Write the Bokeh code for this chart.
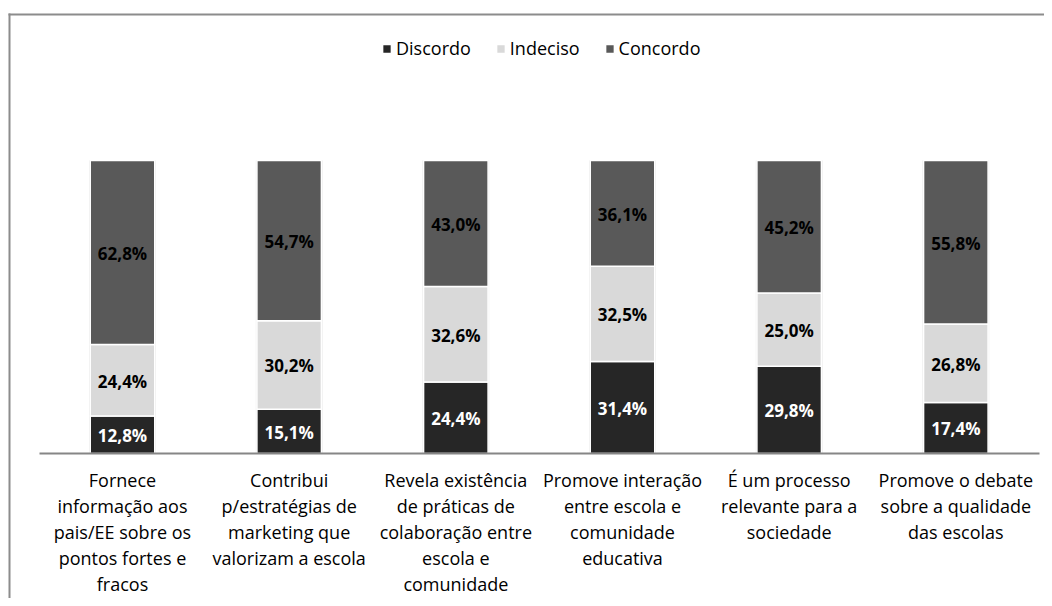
from bokeh.plotting import figure
from bokeh.models import (ColumnDataSource, Range1d, Legend, BoxAnnotation,
                          LinearAxis, FixedTicker)
from bokeh.core.properties import value
from bokeh.embed import file_html
from bokeh.resources import INLINE

categories = [
    "Fornece\ninformação aos\npais/EE sobre os\npontos fortes e\nfracos",
    "Contribui\np/estratégias de\nmarketing que\nvalorizam a escola",
    "Revela existência\nde práticas de\ncolaboração entre\nescola e\ncomunidade",
    "Promove interação\nentre escola e\ncomunidade\neducativa",
    "É um processo\nrelevante para a\nsociedade",
    "Promove o debate\nsobre a qualidade\ndas escolas",
]
series_names = ["Discordo", "Indeciso", "Concordo"]
discordo = [12.8, 15.1, 24.4, 31.4, 29.8, 17.4]
indeciso = [24.4, 30.2, 32.6, 32.5, 25.0, 26.8]
concordo = [62.8, 54.7, 43.0, 36.1, 45.2, 55.8]
colors = ["#262626", "#d9d9d9", "#595959"]
label_colors = ["#ffffff", "#000000", "#000000"]

FONT = "Open Sans"

xs = list(range(len(categories)))
data = {"x": xs, "Discordo": discordo, "Indeciso": indeciso, "Concordo": concordo}
source = ColumnDataSource(data)

W, H = 1044, 598
p = figure(
    x_range=Range1d(-0.732, 5.532),
    y_range=Range1d(-49.5, 154.6),
    width=W, height=H,
    output_backend="svg", toolbar_location=None,
    x_axis_location=None, y_axis_location=None,
    min_border_left=0, min_border_right=0, min_border_top=0, min_border_bottom=0,
)
p.outline_line_color = None
p.xgrid.visible = False
p.ygrid.visible = False

# chart-area border (left and top edges), in canvas units
p.add_layout(BoxAnnotation(left=8, right=10, top=13, bottom=H,
                           left_units="canvas", right_units="canvas",
                           top_units="canvas", bottom_units="canvas",
                           fill_color="#8c8c8c", fill_alpha=1, line_color=None,
                           level="overlay"))
p.add_layout(BoxAnnotation(left=8, right=W, top=13, bottom=15,
                           left_units="canvas", right_units="canvas",
                           top_units="canvas", bottom_units="canvas",
                           fill_color="#8c8c8c", fill_alpha=1, line_color=None,
                           level="overlay"))

# faint shadow behind bars
totals = [a + b + c for a, b, c in zip(discordo, indeciso, concordo)]
shadow = ColumnDataSource({"x": xs, "top": totals})
p.vbar(x="x", top="top", bottom=0, width=0.40, source=shadow,
       fill_color="#e4e4e4", line_color=None)

renderers = p.vbar_stack(series_names, x="x", width=0.387, color=colors,
                         line_color="white", line_width=1.5, source=source)

# data labels
cum = [0.0] * len(categories)
for name, vals, lc in zip(series_names, [discordo, indeciso, concordo], label_colors):
    ys = [c + v / 2 for c, v in zip(cum, vals)]
    cum = [c + v for c, v in zip(cum, vals)]
    txt = [f"{v:.1f}".replace(".", ",") + "%" for v in vals]
    ls = ColumnDataSource({"x": xs, "y": ys, "t": txt})
    p.text(x="x", y="y", text="t", source=ls, text_align="center",
           text_baseline="middle", text_font=value(FONT), text_font_style="bold",
           text_font_size="17px", text_color=lc, y_offset=1)

ax = LinearAxis(ticker=FixedTicker(ticks=xs), fixed_location=0,
                bounds=(-0.5, len(categories) - 0.5))
ax.major_label_overrides = {i: c for i, c in zip(xs, categories)}
ax.axis_line_color = "#868686"
ax.axis_line_width = 2
ax.major_tick_line_color = None
ax.minor_tick_line_color = None
ax.major_label_text_font = FONT
ax.major_label_text_font_size = "18px"
ax.major_label_text_color = "#000000"
ax.major_label_text_line_height = 1.08
ax.major_label_standoff = 9
ax.major_label_orientation = "horizontal"
p.add_layout(ax, "below")

legend = Legend(items=[(n, [r]) for n, r in zip(series_names, renderers)],
                orientation="horizontal", location=(381, 538))
legend.label_text_font = FONT
legend.label_text_font_size = "18px"
legend.label_text_color = "#000000"
legend.glyph_width = 11
legend.glyph_height = 11
legend.label_standoff = 4
legend.spacing = 24
legend.padding = 0
legend.margin = 0
legend.border_line_color = None
legend.background_fill_alpha = 0
p.add_layout(legend, "center")

open("out.html", "w").write(file_html(p, INLINE))
